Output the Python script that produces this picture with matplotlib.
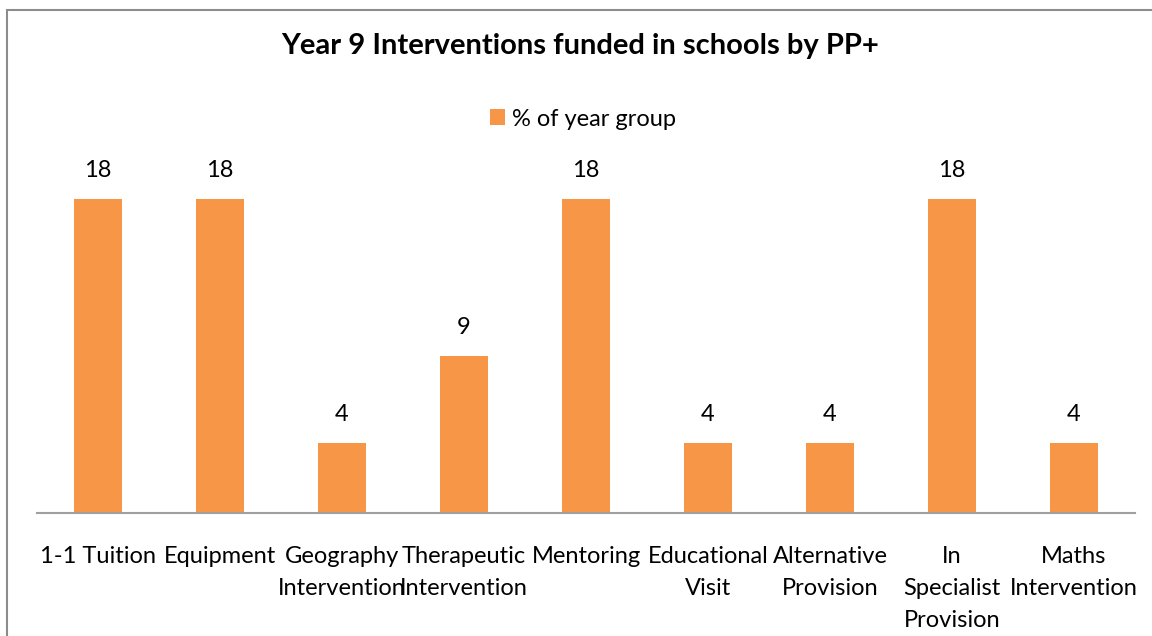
import matplotlib.pyplot as plt
from matplotlib.patches import Rectangle

# Year 9 PP+ funded interventions
categories = ['1-1 Tuition', 'Equipment', 'Geography\nIntervention',
              'Therapeutic\nIntervention', 'Mentoring', 'Educational\nVisit',
              'Alternative\nProvision', 'In\nSpecialist\nProvision',
              'Maths\nIntervention']
pct_of_year = [18, 18, 4, 9, 18, 4, 4, 18, 4]

plt.rcParams['font.family'] = ['Lato', 'DejaVu Sans']

W, H = 1152, 636
fig = plt.figure(figsize=(W / 100, H / 100), dpi=100)
ax = fig.add_axes([37 / W, (H - 513) / H, (1135 - 37) / W, (513 - 164) / H])

x = range(len(categories))
bars = ax.bar(x, pct_of_year, width=0.4, color='#F79646', label='% of year group')
ax.bar_label(bars, padding=13, fontsize=17)

ax.set_xlim(-0.5, len(categories) - 0.5)
ax.set_ylim(0, 20)
ax.set_xticks(list(x))
ax.set_xticklabels(categories, fontsize=17, linespacing=1.63)
ax.tick_params(axis='x', length=0, pad=24)
ax.set_yticks([])
for side in ['top', 'left', 'right']:
    ax.spines[side].set_visible(False)
ax.spines['bottom'].set_color('#A0A0A0')
ax.spines['bottom'].set_linewidth(1.5)

fig.text(0.504, (H - 46) / H, 'Year 9 Interventions funded in schools by PP+',
         ha='center', va='center', fontsize=21, fontweight='bold')

fig.legend(handles=[bars], loc='center', bbox_to_anchor=(0.506, (H - 119) / H),
           frameon=False, fontsize=17, handlelength=0.65, handleheight=0.65,
           handletextpad=0.3)

# chart area border
fig.patches.append(Rectangle((7 / W, -0.1), 1.2, (H - 10) / H + 0.1,
                             transform=fig.transFigure, fill=False,
                             edgecolor='#8C8C8C', linewidth=1.5))

fig.savefig('out.png', dpi=100, facecolor='white')
